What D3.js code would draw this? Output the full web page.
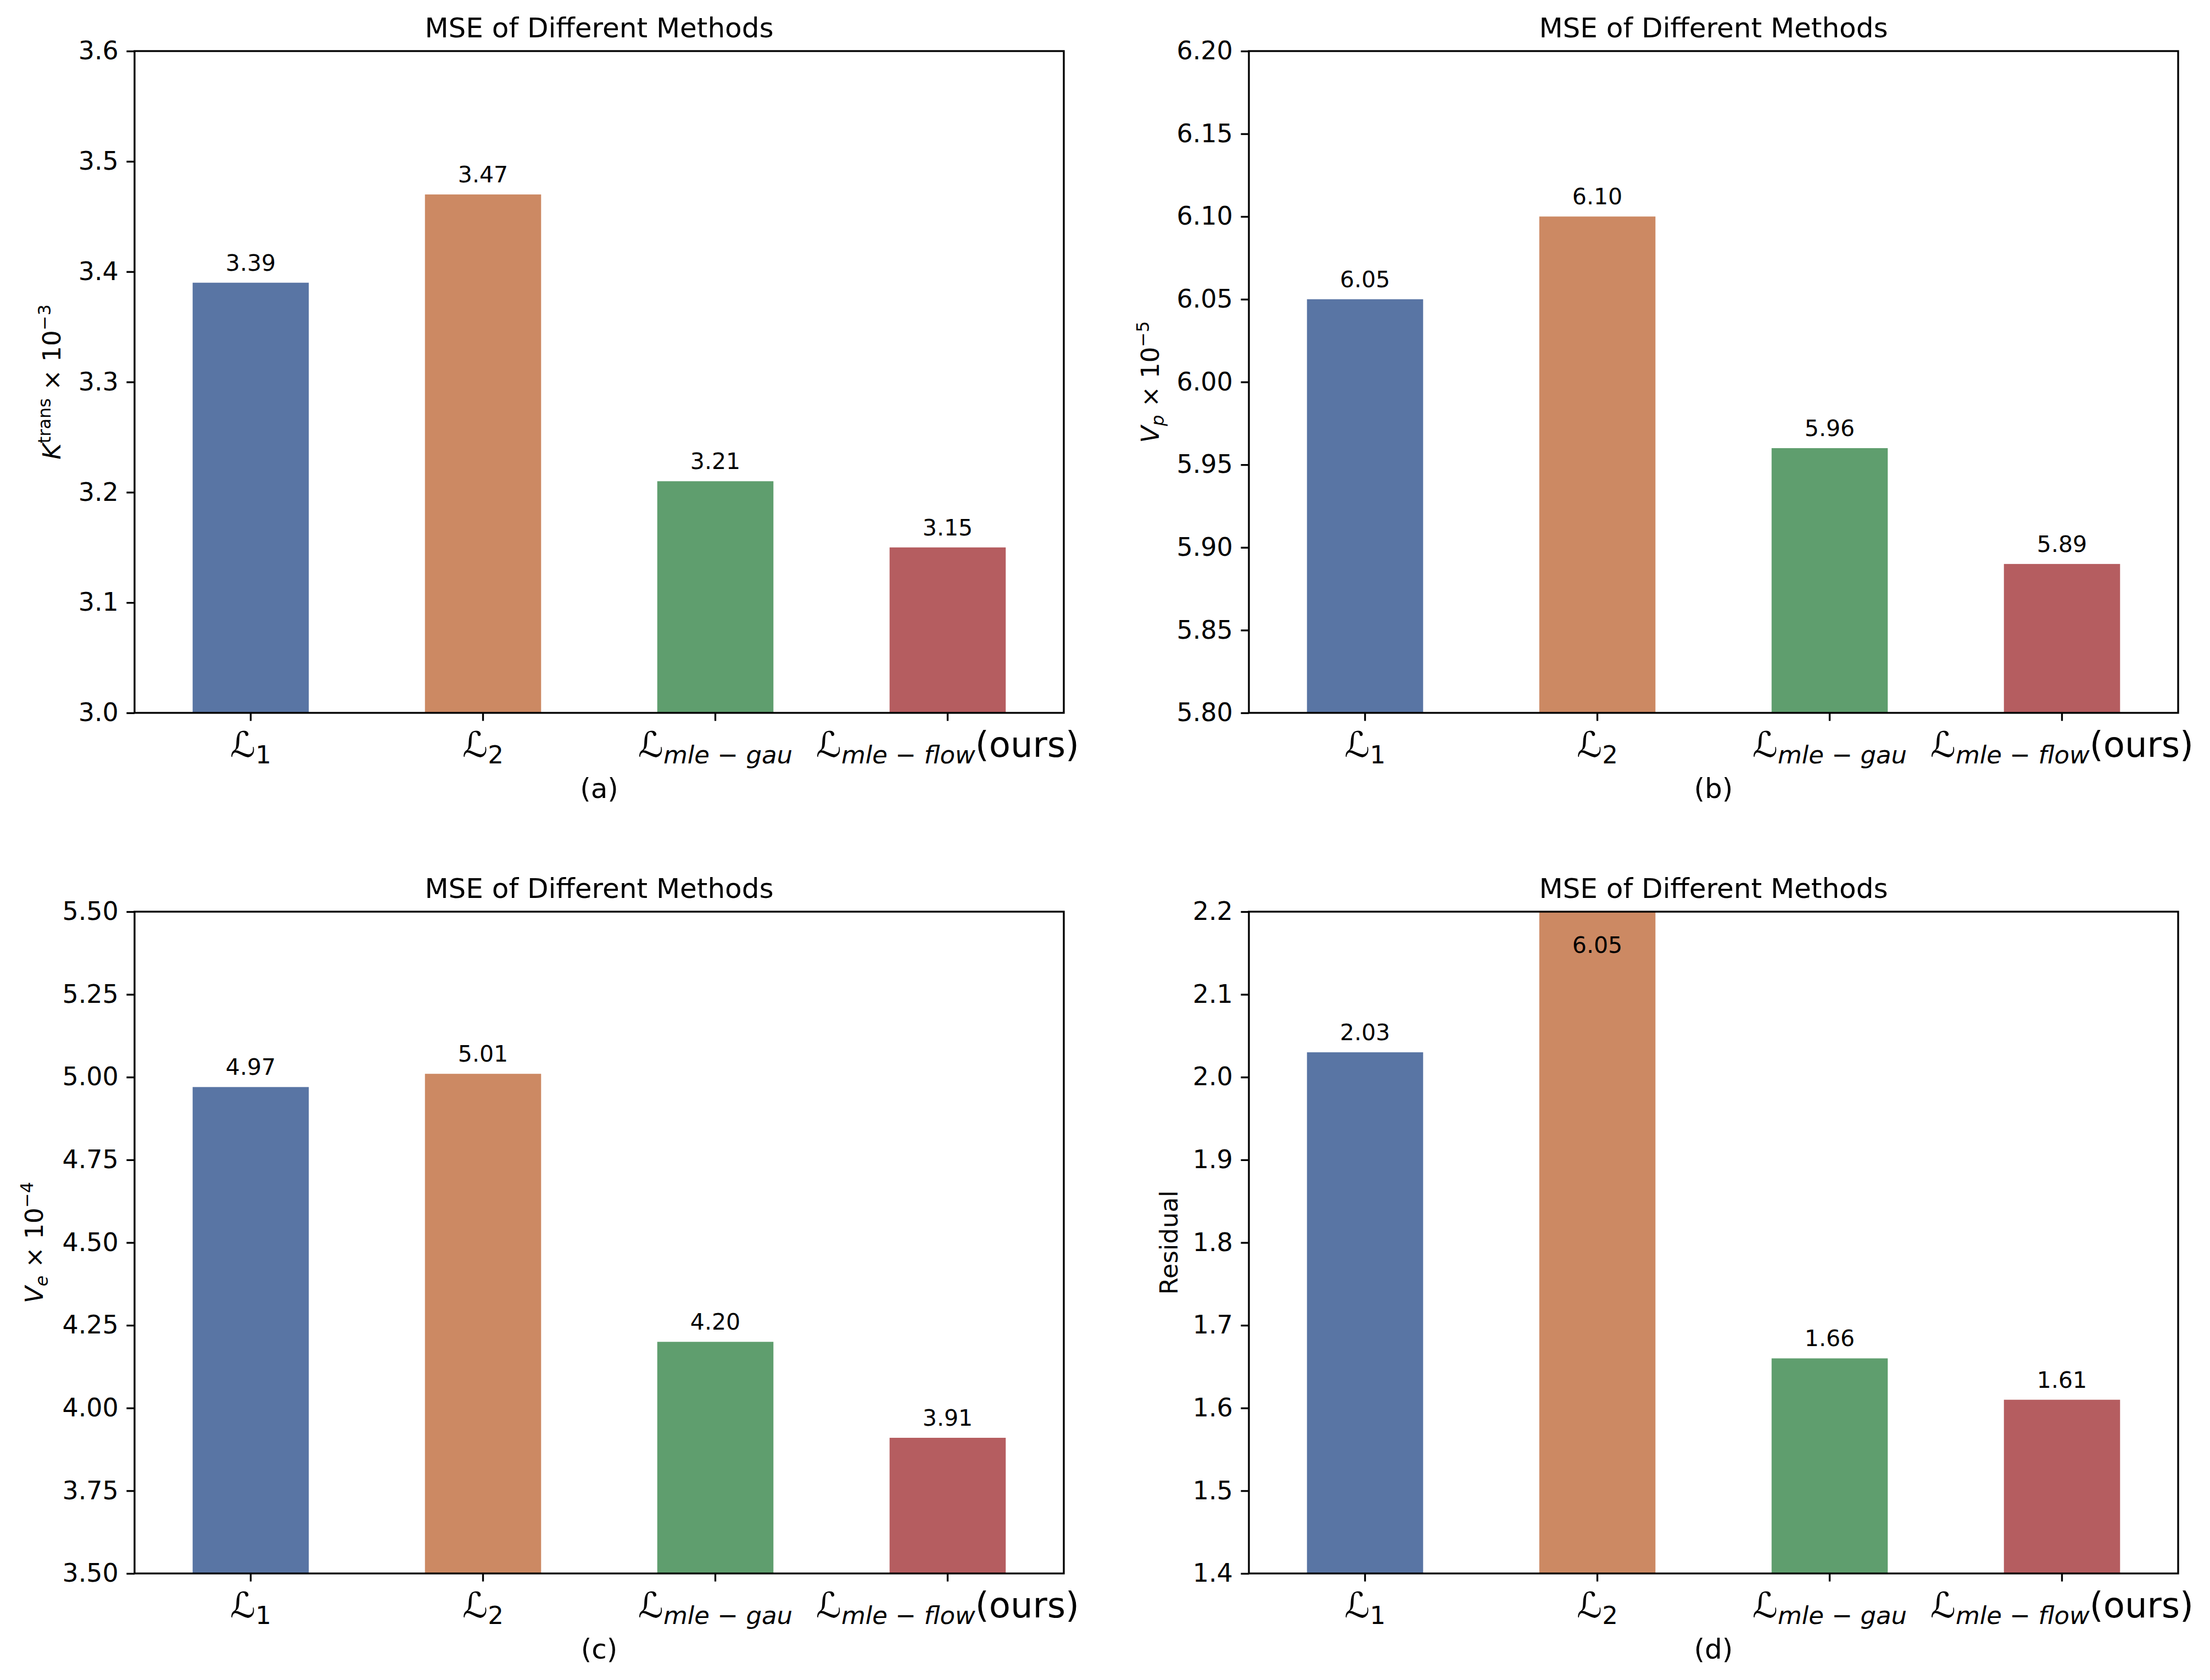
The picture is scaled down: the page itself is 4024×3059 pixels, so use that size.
<!DOCTYPE html>
<html>
<head>
<meta charset="utf-8">
<script src="https://cdn.jsdelivr.net/npm/d3@7"></script>
<style>
  body { margin: 0; background: #fff; }
  svg { display: block; }
  text { font-family: "DejaVu Sans", sans-serif; fill: #000; }
</style>
</head>
<body>
<svg id="chart" width="4024" height="3059"></svg>
<script>
// data
const methods = ['L1', 'L2', 'Lgau', 'Lflow'];
const methodSubs = ['1', '2', 'mle\u2212gau', 'mle\u2212flow'];
const methodNotes = ['', '', '', '(ours)'];

const kTransMse = [3.39, 3.47, 3.21, 3.15];
const vpMse = [6.05, 6.10, 5.96, 5.89];
const veMse = [4.97, 5.01, 4.20, 3.91];
const residualMse = [2.03, 6.05, 1.66, 1.61];

const kTransTicks = [3.0, 3.1, 3.2, 3.3, 3.4, 3.5, 3.6];
const vpTicks = [5.80, 5.85, 5.90, 5.95, 6.00, 6.05, 6.10, 6.15, 6.20];
const veTicks = [3.50, 3.75, 4.00, 4.25, 4.50, 4.75, 5.00, 5.25, 5.50];
const residualTicks = [1.4, 1.5, 1.6, 1.7, 1.8, 1.9, 2.0, 2.1, 2.2];

const captions = ['(a)', '(b)', '(c)', '(d)'];
const barColors = ['#5975a4', '#cc8963', '#5f9e6e', '#b55d60'];

const svg = d3.select('#chart');
svg.append('rect').attr('width', 4024).attr('height', 3059).attr('fill', '#fff');

const axW = 1692;
const axH = 1205;
const lw = 3.33;
const tickLen = 14.6;

const panels = [
  { values: kTransMse, ticks: kTransTicks, fmt: '.1f', x: 245, y: 93, labOff: 135,
    ylabel: [['K', 45, 0, true], ['trans', 32, -18, false], [' \u00d7 10', 45, 18, false], ['\u22123', 32, -18, false]] },
  { values: vpMse, ticks: vpTicks, fmt: '.2f', x: 2274, y: 93, labOff: 164,
    ylabel: [['V', 45, 0, true], ['p', 32, 9, true], [' \u00d7 10', 45, -9, false], ['\u22125', 32, -18, false]] },
  { values: veMse, ticks: veTicks, fmt: '.2f', x: 245, y: 1660, labOff: 167,
    ylabel: [['V', 45, 0, true], ['e', 32, 9, true], [' \u00d7 10', 45, -9, false], ['\u22124', 32, -18, false]] },
  { values: residualMse, ticks: residualTicks, fmt: '.1f', x: 2274, y: 1660, labOff: 130,
    ylabel: [['Residual', 45, 0, false]] }
];

panels.forEach((p, pi) => {
  const g = svg.append('g').attr('transform', `translate(${p.x}, ${p.y})`);

  const x = d3.scaleBand()
    .domain(methods)
    .range([0, axW])
    .paddingInner(0.5)
    .paddingOuter(0.25);

  const y = d3.scaleLinear()
    .domain(d3.extent(p.ticks))
    .range([axH, 0])
    .clamp(true);

  const data = methods.map((m, i) => ({ m, v: p.values[i], c: barColors[i] }));

  g.selectAll('.bar')
    .data(data)
    .join('rect')
    .attr('x', d => x(d.m))
    .attr('width', x.bandwidth())
    .attr('y', d => y(d.v))
    .attr('height', d => axH - y(d.v))
    .attr('fill', d => d.c);

  // value labels (clipped bar gets its label inside)
  g.selectAll('.val')
    .data(data)
    .join('text')
    .attr('x', d => x(d.m) + x.bandwidth() / 2)
    .attr('y', d => d.v > y.domain()[1] ? 75 : y(d.v) - 22)
    .attr('text-anchor', 'middle')
    .attr('font-size', 41)
    .text(d => d3.format('.2f')(d.v));

  // y axis
  const yAxis = g.append('g')
    .call(d3.axisLeft(y).tickValues(p.ticks).tickFormat(d3.format(p.fmt))
      .tickSize(tickLen).tickPadding(14.6));
  yAxis.select('.domain').remove();
  yAxis.selectAll('line').attr('stroke', '#000').attr('stroke-width', lw);
  yAxis.selectAll('text').attr('font-size', 46).attr('font-family', '"DejaVu Sans"').attr('fill', '#000');

  // x axis
  const xAxis = g.append('g')
    .attr('transform', `translate(0, ${axH})`)
    .call(d3.axisBottom(x).tickSize(tickLen).tickFormat(''));
  xAxis.select('.domain').remove();
  xAxis.selectAll('line').attr('stroke', '#000').attr('stroke-width', lw);
  xAxis.selectAll('.tick text').remove();

  xAxis.selectAll('.tick').each(function (m) {
    const i = methods.indexOf(m);
    const t = d3.select(this).append('text')
      .attr('y', 80)
      .attr('text-anchor', 'middle')
      .attr('font-size', 64);
    t.append('tspan').text('\u2112');
    const sub = methodSubs[i];
    if (sub.includes('\u2212')) {
      const parts = sub.split('\u2212');
      t.append('tspan').attr('font-size', 45).attr('dy', 12).attr('font-style', 'italic').text(parts[0]);
      t.append('tspan').attr('font-size', 45).text(' \u2212 ');
      t.append('tspan').attr('font-size', 45).attr('font-style', 'italic').text(parts[1]);
    } else {
      t.append('tspan').attr('font-size', 45).attr('dy', 12).text(sub);
    }
    if (methodNotes[i]) {
      t.append('tspan').attr('dy', -12).text(methodNotes[i]);
    }
  });

  // frame
  g.append('rect')
    .attr('width', axW)
    .attr('height', axH)
    .attr('fill', 'none')
    .attr('stroke', '#000')
    .attr('stroke-width', lw);

  // title
  g.append('text')
    .attr('x', axW / 2)
    .attr('y', -25)
    .attr('text-anchor', 'middle')
    .attr('font-size', 50)
    .text('MSE of Different Methods');

  // caption
  g.append('text')
    .attr('x', axW / 2)
    .attr('y', axH + 155)
    .attr('text-anchor', 'middle')
    .attr('font-size', 50)
    .text(captions[pi]);

  // y label
  const yl = g.append('text')
    .attr('transform', `translate(${-p.labOff}, ${axH / 2}) rotate(-90)`)
    .attr('text-anchor', 'middle')
    .attr('font-size', 45);
  p.ylabel.forEach(([s, size, dy, it]) => {
    yl.append('tspan')
      .attr('font-size', size)
      .attr('dy', dy)
      .attr('font-style', it ? 'italic' : 'normal')
      .text(s);
  });
});
</script>
</body>
</html>
